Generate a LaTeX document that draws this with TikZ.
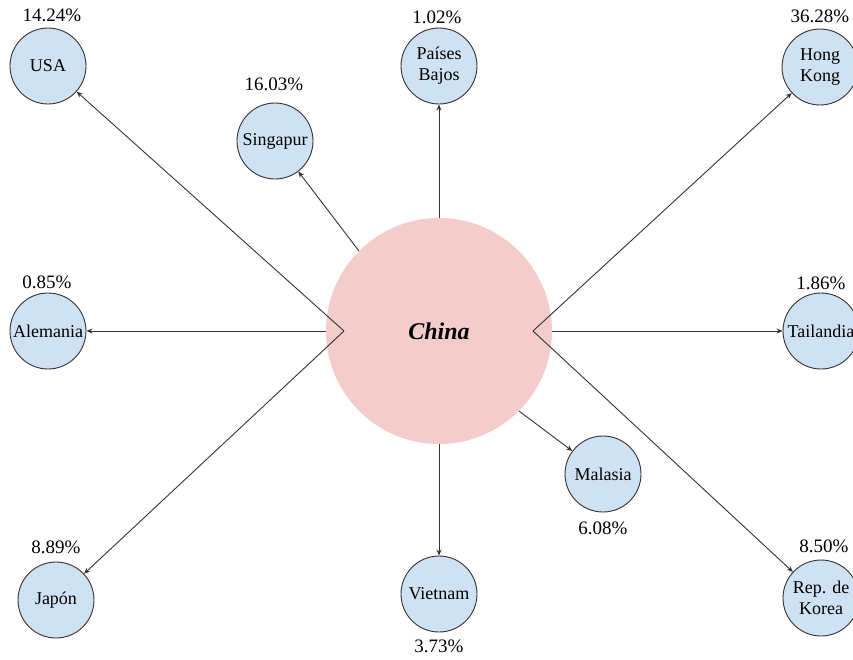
\documentclass[tikz,border=0pt]{standalone}
\usepackage{fontspec}
\setmainfont{Liberation Serif}
\usetikzlibrary{arrows.meta}
\definecolor{nodeblue}{HTML}{CFE2F3}
\definecolor{hubpink}{HTML}{F4CCCC}
\definecolor{linegray}{HTML}{333333}
\tikzset{
  country/.style={circle, draw=linegray, line width=0.9pt, fill=nodeblue,
    minimum size=76pt, inner sep=0pt, align=center,
    font=\fontsize{18}{21}\selectfont},
  hub/.style={circle, fill=hubpink, minimum size=226pt, inner sep=0pt,
    font=\fontsize{24}{28}\selectfont\bfseries\itshape},
  share/.style={inner sep=0pt, font=\fontsize{19}{22}\selectfont},
  flow/.style={draw=linegray, line width=0.9pt,
    -{Stealth[length=6pt,width=5pt]}}
}
\begin{document}
\begin{tikzpicture}[x=1pt,y=-1pt]
\useasboundingbox (0,0) rectangle (853,659);

% central hub
\node[hub] (china) at (439,331) {China};

% destination countries
\node[country] (usa)  at (48,66)   {USA};
\node[country] (sing) at (275,141) {Singapur};
\node[country] (pb)   at (439,66)  {Países\\Bajos};
\node[country] (hk)   at (820,67)  {Hong\\Kong};
\node[country] (ale)  at (48,331)  {Alemania};
\node[country] (tai)  at (821,331) {Tailandia};
\node[country] (mal)  at (603,474) {Malasia};
\node[country] (jap)  at (56,600)  {Japón};
\node[country] (viet) at (439,594) {Vietnam};
\node[country] (kor)  at (821,598) {Rep. de\\Korea};

% shares
\node[share] (pusa)  at (52,15)   {14.24\%};
\node[share] (psing) at (274,84)  {16.03\%};
\node[share] (ppb)   at (437,17)  {1.02\%};
\node[share] (phk)   at (820,16)  {36.28\%};
\node[share] (pale)  at (47,282)  {0.85\%};
\node[share] (ptai)  at (821,283) {1.86\%};
\node[share] (pmal)  at (603,528) {6.08\%};
\node[share] (pjap)  at (56,547)  {8.89\%};
\node[share] (pviet) at (439,646) {3.73\%};
\node[share] (pkor)  at (824,546) {8.50\%};

% fan-out points inside the hub
\coordinate (lv) at (344,331);
\coordinate (rv) at (533,331);

% flows
\draw[flow] (lv) -- (usa);
\draw[flow] (lv) -- (jap);
\draw[flow] (china.west) -- (ale);
\draw[flow] (china.135) -- (sing);
\draw[flow] (china.north) -- (pb);
\draw[flow] (rv) -- (hk);
\draw[flow] (rv) -- (kor);
\draw[flow] (china.east) -- (tai);
\draw[flow] (china.-45) -- (mal);
\draw[flow] (china.south) -- (viet);
\end{tikzpicture}
\end{document}
